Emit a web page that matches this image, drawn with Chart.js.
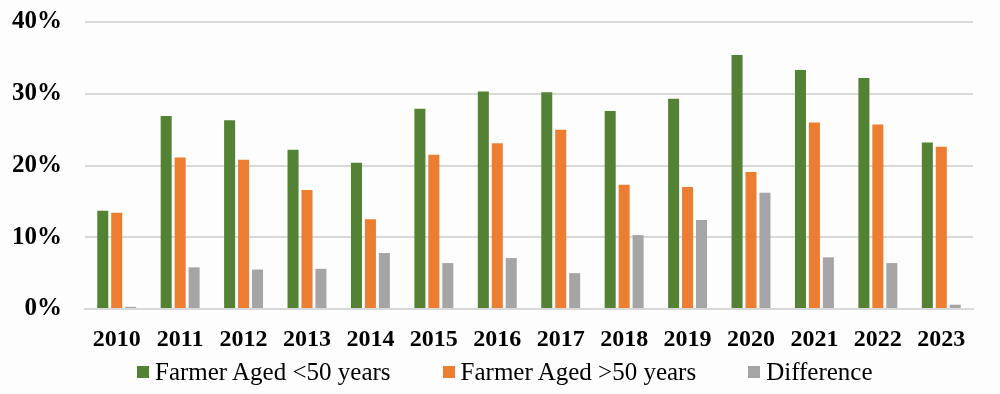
<!DOCTYPE html>
<html>
<head>
<meta charset="utf-8">
<script src="https://cdn.jsdelivr.net/npm/chart.js@4/dist/chart.umd.min.js"></script>
<style>
  html, body { margin: 0; padding: 0; background: #fdfdfd; }
  #wrap { width: 1000px; height: 394px; position: relative; }
  #legend {
    position: absolute; left: 137px; top: 357px; height: 30px;
    display: flex; align-items: center;
    font-family: "Liberation Serif", "Times New Roman", serif; font-size: 25px; line-height: 30px; color: #000;
  }
  #legend .item { display: flex; align-items: center; margin-right: 52px; white-space: pre; }
  #legend .box { width: 12px; height: 12px; margin-right: 6px; }
</style>
</head>
<body>
<div id="wrap"><canvas id="barChart"></canvas><div id="legend"></div></div>
<script>
const years = ['2010', '2011', '2012', '2013', '2014', '2015', '2016', '2017', '2018', '2019', '2020', '2021', '2022', '2023'];
const agedUnder50 = [13.7, 26.9, 26.3, 22.2, 20.4, 27.9, 30.3, 30.2, 27.6, 29.3, 35.4, 33.3, 32.2, 23.2];
const agedOver50 = [13.4, 21.1, 20.8, 16.6, 12.5, 21.5, 23.1, 25.0, 17.3, 17.0, 19.1, 26.0, 25.7, 22.6];
const difference = [0.3, 5.8, 5.5, 5.6, 7.8, 6.4, 7.1, 5.0, 10.3, 12.4, 16.2, 7.2, 6.4, 0.6];
const yTicks = [0, 10, 20, 30, 40];

const serif = '"Liberation Serif", "Times New Roman", serif';

function makeSet(label, data, color) {
  return {
    label: label,
    data: data,
    backgroundColor: color,
    borderWidth: 0,
    categoryPercentage: 0.66,
    barPercentage: 0.79
  };
}

const bars = new Chart(document.getElementById('barChart'), {
  type: 'bar',
  data: {
    labels: years,
    datasets: [
      makeSet('Farmer Aged <50 years', agedUnder50, '#548235'),
      makeSet('Farmer Aged >50 years', agedOver50, '#ED7D31'),
      makeSet('Difference', difference, '#A5A5A5')
    ]
  },
  options: {
    responsive: true,
    maintainAspectRatio: false,
    animation: false,
    layout: { padding: { top: 22, right: 27, left: 0, bottom: 40 } },
    plugins: {
      tooltip: { enabled: false },
      legend: { display: false }
    },
    scales: {
      x: {
        grid: { display: false },
        border: { color: '#d9d9d9', width: 2 },
        ticks: { color: '#000', font: { family: serif, size: 24, weight: 'bold' }, padding: 8 },
        afterFit(scale) { scale.height = 45; }
      },
      y: {
        min: 0,
        max: 40,
        afterBuildTicks(axis) { axis.ticks = yTicks.map(v => ({ value: v })); },
        afterFit(scale) {
          scale.width = 85;
          scale.paddingTop = 0;
          scale.paddingBottom = 0;
        },
        grid: { color: '#d9d9d9', lineWidth: 2, drawTicks: false },
        border: { display: false },
        ticks: {
          color: '#000',
          font: { family: serif, size: 25, weight: 'bold' },
          padding: 23,
          callback: v => v + '%'
        }
      }
    }
  }
});

// legend built from the chart's own datasets
const legendEl = document.getElementById('legend');
bars.data.datasets.forEach(ds => {
  const item = document.createElement('div');
  item.className = 'item';
  const box = document.createElement('span');
  box.className = 'box';
  box.style.background = ds.backgroundColor;
  const txt = document.createElement('span');
  txt.textContent = ds.label;
  item.appendChild(box);
  item.appendChild(txt);
  legendEl.appendChild(item);
});
</script>
</body>
</html>
